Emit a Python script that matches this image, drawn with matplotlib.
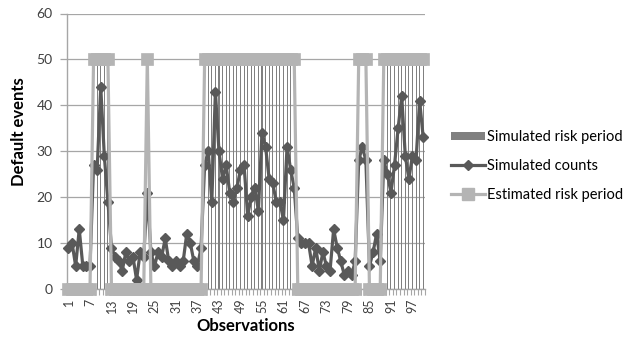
import matplotlib
matplotlib.use("Agg")
import matplotlib.pyplot as plt
from matplotlib.lines import Line2D
from matplotlib.patches import Patch

observations = list(range(1, 101))

simulated_counts = [9, 10, 5, 13, 5, 5, 5, 27, 26, 44,
                    29, 19, 9, 7, 6, 4, 8, 6, 7, 2,
                    8, 7, 21, 8, 5, 8, 7, 11, 6, 5,
                    6, 5, 6, 12, 10, 6, 5, 9, 27, 30,
                    19, 43, 30, 24, 27, 21, 19, 22, 26, 27,
                    16, 20, 22, 17, 34, 31, 24, 23, 19, 19,
                    15, 31, 26, 22, 11, 10, 10, 10, 5, 9,
                    4, 8, 5, 4, 13, 9, 6, 3, 4, 3,
                    6, 28, 31, 28, 5, 8, 12, 6, 28, 25,
                    21, 27, 35, 42, 29, 24, 29, 28, 41, 33]

sim_risk_obs = list(range(9, 13)) + list(range(40, 64)) + list(range(90, 101))
est_risk_obs = list(range(8, 13)) + [23] + list(range(39, 65)) + list(range(82, 85)) + list(range(89, 101))

simulated_risk = [50 if o in sim_risk_obs else 0 for o in observations]
estimated_risk = [50 if o in est_risk_obs else 0 for o in observations]

tick_labels = [str(o) for o in observations[::6]]

plt.rcParams['font.family'] = ['Lato', 'DejaVu Sans']

W, H = 630, 343
fig = plt.figure(figsize=(W / 100, H / 100), dpi=100)
left, right, top, bottom = 66.7, 425, 13.5, 289
ax = fig.add_axes([left / W, 1 - bottom / H, (right - left) / W, (bottom - top) / H])

x = list(range(len(observations)))
grid_c = '#a6a6a6'
text_c = '#404040'

ax.bar(x, simulated_risk, width=0.3, color='#808080', zorder=2, linewidth=0)
ax.plot(x, simulated_counts, color='#595959', lw=2.3, marker='D', markersize=5.6,
        markeredgecolor='#595959', zorder=3, clip_on=False)
ax.plot(x, estimated_risk, color='#b4b4b4', lw=2.3, marker='s', markersize=8.0,
        markeredgecolor='#b4b4b4', markeredgewidth=0.5, zorder=4, clip_on=False)

ax.set_xlim(-0.5, len(observations) - 0.5)
ax.set_ylim(0, 60)
ax.set_yticks(range(0, 61, 10))
ax.yaxis.grid(True, color=grid_c, lw=0.9, zorder=0)
ax.set_axisbelow(True)

ax.set_xticks(x[::6])
ax.set_xticklabels(tick_labels, rotation=90, fontsize=9, color=text_c)
ax.set_xticks([i - 0.5 for i in range(len(observations) + 1)], minor=True)
ax.tick_params(axis='x', which='major', length=0, pad=7)
ax.tick_params(axis='x', which='minor', length=4, color=grid_c, width=0.8, direction='out')
ax.tick_params(axis='y', length=5, color=grid_c, width=0.9, labelsize=10, labelcolor=text_c, pad=5)

for s in ['top', 'right']:
    ax.spines[s].set_visible(False)
for s in ['left', 'bottom']:
    ax.spines[s].set_color(grid_c)
    ax.spines[s].set_linewidth(1.0)

fig.text(19 / W, 1 - 132 / H, 'Default events', rotation=90, ha='center', va='center',
         fontsize=12, fontweight='bold', color='black')
fig.text(246 / W, 1 - 326 / H, 'Observations', ha='center', va='center',
         fontsize=12, fontweight='bold', color='black')

handles = [Patch(facecolor='#808080', edgecolor='none'),
           Line2D([], [], color='#595959', lw=2.3, marker='D', markersize=5.6),
           Line2D([], [], color='#b4b4b4', lw=2.3, marker='s', markersize=8.0)]
labels = ['Simulated risk period', 'Simulated counts', 'Estimated risk period']
fig.legend(handles, labels, loc='center left', bbox_to_anchor=(451 / W, 1 - 166 / H),
           frameon=False, fontsize=10.5, handlelength=2.3, handletextpad=0.15,
           labelspacing=1.0, borderpad=0, borderaxespad=0, handleheight=0.5)

fig.savefig('out.png', dpi=100)
